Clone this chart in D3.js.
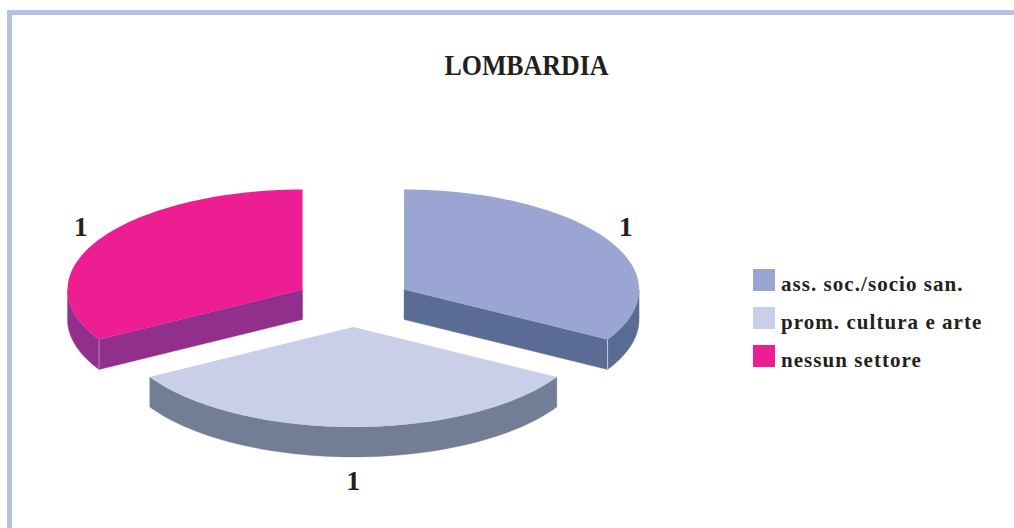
<!DOCTYPE html>
<html><head><meta charset="utf-8">
<script src="https://cdn.jsdelivr.net/npm/d3@7"></script>
<style>html,body{margin:0;padding:0;background:#fff;overflow:hidden}svg{display:block}
text{font-family:"Liberation Serif",serif;font-weight:700;fill:#231f20}</style>
</head><body>
<svg id="c" width="1014" height="528"></svg>
<script>
const title = "LOMBARDIA";
const categories = ["ass. soc./socio san.", "prom. cultura e arte", "nessun settore"];
const values = [1, 1, 1];
const topColors = ["#9aa5d3", "#c9cfe8", "#ed1e91"];
const sideColors = ["#5b6c94", "#727d96", "#922f8d"];
const edgeColors = ["#c4cbe4", "#727d96", "#c77db8"];

const W = 1014, H = 528;
const cx = 353.3, cy = 302, rx = 235, ry = 100, depth = 30, explode = 58.6;
const svg = d3.select("#c").attr("viewBox", `0 0 ${W} ${H}`);

// frame
svg.append("path").attr("fill", "none").attr("stroke", "#b7c2e0").attr("stroke-width", 5)
  .attr("d", `M9.5,${H} V12.5 H${W}`);

// title
svg.append("text").attr("x", 526.5).attr("y", 75).attr("text-anchor", "middle")
  .attr("font-size", 30).attr("textLength", 164).attr("lengthAdjust", "spacingAndGlyphs").text(title);

const pie = d3.pie().sort(null)(values);
const sx = d3.scaleLinear().domain([-1, 1]).range([-rx, rx]);
const sy = d3.scaleLinear().domain([-1, 1]).range([-ry, ry]);
const line = d3.line();
const steps = a => d3.range(0, 61).map(i => a[0] + (a[1] - a[0]) * i / 60);

const slices = pie.map((d, i) => {
  const mid = (d.startAngle + d.endAngle) / 2;
  const ox = cx + explode * Math.sin(mid);
  const oy = cy + sy(-explode / rx * Math.cos(mid));
  return {d, i, mid, ox, oy,
    pt: (a, z = 0) => [ox + sx(Math.sin(a)), oy - sy(Math.cos(a)) + z]};
});

// back slices first, the one nearest the viewer last
const order = slices.slice().sort((a, b) => Math.cos(b.mid) - Math.cos(a.mid));
order.forEach(s => {
  const g = svg.append("g");
  const {startAngle: a0, endAngle: a1} = s.d;
  const lo = Math.max(a0, Math.PI / 2), hi = Math.min(a1, 3 * Math.PI / 2);
  const walls = [];
  if (a1 > 0 && a1 < Math.PI) walls.push(a1);
  if (a0 > Math.PI && a0 < 2 * Math.PI) walls.push(a0);
  walls.forEach(a => {
    const p = [[s.ox, s.oy], s.pt(a), s.pt(a, depth), [s.ox, s.oy + depth]];
    g.append("path").attr("d", line(p) + "Z").attr("fill", sideColors[s.i])
      .attr("stroke", sideColors[s.i]).attr("stroke-width", .4);
  });
  if (hi > lo) {
    const arc = steps([lo, hi]);
    const p = arc.map(a => s.pt(a)).concat(arc.slice().reverse().map(a => s.pt(a, depth)));
    g.append("path").attr("d", line(p) + "Z").attr("fill", sideColors[s.i])
      .attr("stroke", sideColors[s.i]).attr("stroke-width", .4);
  }
  walls.forEach(a => {
    g.append("path").attr("d", line([s.pt(a), s.pt(a, depth)]))
      .attr("stroke", edgeColors[s.i]).attr("stroke-width", 1).attr("fill", "none");
  });
  const top = [[s.ox, s.oy]].concat(steps([a0, a1]).map(a => s.pt(a)));
  g.append("path").attr("d", line(top) + "Z").attr("fill", topColors[s.i]);
});

// value labels
const labelX = 256, labelY = 127, labelDrop = 27;
slices.forEach(s => {
  const c = Math.cos(s.mid);
  svg.append("text").attr("text-anchor", "middle").attr("font-size", 28)
    .attr("x", s.ox + labelX * Math.sin(s.mid))
    .attr("y", s.oy - labelY * c + (c < 0 ? labelDrop : 0) + 9.5)
    .text(values[s.i]);
});

// legend
const ly = d3.scalePoint().domain(categories).range([280, 356]);
const legend = svg.append("g").selectAll("g").data(categories).join("g")
  .attr("transform", d => `translate(753,${ly(d)})`);
legend.append("rect").attr("y", -11).attr("width", 22).attr("height", 22)
  .attr("fill", (d, i) => topColors[i]);
legend.append("text").attr("x", 28).attr("y", 10.5).attr("font-size", 21).attr("letter-spacing", 1.05).text(d => d);
</script>
</body></html>
